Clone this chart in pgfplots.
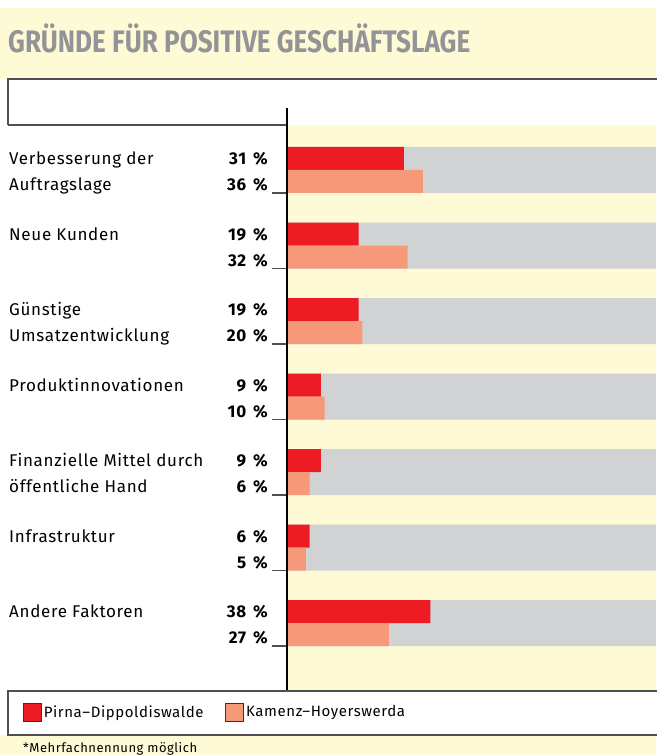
\documentclass[border=0pt]{standalone}
\usepackage{pgfplots}
\pgfplotsset{compat=1.18}
\usepackage{fontspec}
\setmainfont{Fira Sans}[LetterSpace=4]
\definecolor{bgy}{RGB}{255,250,214}
\definecolor{barg}{RGB}{209,210,212}
\definecolor{rd}{RGB}{237,28,36}
\definecolor{sal}{RGB}{246,153,122}
\definecolor{ttl}{RGB}{146,148,152}
\definecolor{frm}{RGB}{80,80,80}
\newcommand{\lbl}{\fontsize{17pt}{18pt}\selectfont}
\begin{document}
\begin{tikzpicture}
\useasboundingbox (0,0) rectangle (656pt,-755pt);
\fill[white] (0,0) rectangle (656pt,-755pt);
\fill[bgy] (0,-8pt) rectangle (656pt,-79pt);
\fill[bgy] (287pt,-125pt) rectangle (656pt,-691pt);
\fill[bgy] (0,-735pt) rectangle (656pt,-755pt);
% title
\node[anchor=base west, inner sep=0pt, text=ttl] at (8pt,-52pt)
  {\resizebox{462pt}{!}{\scalebox{0.84}[1]{\fontsize{30.5pt}{32pt}\selectfont\bfseries\addfontfeature{LetterSpace=0}GRÜNDE FÜR POSITIVE GESCHÄFTSLAGE}}};
% top box
\fill[white] (8pt,-79pt) rectangle (657pt,-125pt);
\draw[line width=2pt, frm] (658pt,-79pt) -- (8pt,-79pt) -- (8pt,-125pt);
\draw[line width=1.2pt, frm] (8pt,-125pt) -- (287pt,-125pt);
% legend box
\draw[line width=1.5pt, frm, fill=white] (8pt,-691pt) rectangle (660pt,-735pt);
% footnote
\node[anchor=base west, inner sep=0pt] at (23pt,-752pt) {\fontsize{13pt}{14pt}\selectfont *Mehrfachnennung möglich};
% category labels
\begin{scope}[every node/.style={anchor=base west, inner sep=0pt, font=\lbl}]
\node at (9pt,-164.5pt) {Verbesserung der};
\node at (9pt,-190.5pt) {Auftragslage};
\node at (9pt,-240pt) {Neue Kunden};
\node at (9pt,-315.5pt) {Günstige};
\node at (9pt,-341.5pt) {Umsatzentwicklung};
\node at (9pt,-391pt) {Produktinnovationen};
\node at (9pt,-466.5pt) {Finanzielle Mittel durch};
\node at (9pt,-492.5pt) {öffentliche Hand};
\node at (9pt,-542pt) {Infrastruktur};
\node at (9pt,-617.5pt) {Andere Faktoren};
\end{scope}
% percentage labels
\begin{scope}[every node/.style={anchor=base east, inner sep=0pt, font=\lbl\bfseries}]
\node at (268pt,-164.5pt) {31\hspace{7pt}\%};
\node at (268pt,-190.5pt) {36\hspace{7pt}\%};
\node at (268pt,-240pt) {19\hspace{7pt}\%};
\node at (268pt,-266pt) {32\hspace{7pt}\%};
\node at (268pt,-315.5pt) {19\hspace{7pt}\%};
\node at (268pt,-341.5pt) {20\hspace{7pt}\%};
\node at (268pt,-391pt) {9\hspace{7pt}\%};
\node at (268pt,-417pt) {10\hspace{7pt}\%};
\node at (268pt,-466.5pt) {9\hspace{7pt}\%};
\node at (268pt,-492.5pt) {6\hspace{7pt}\%};
\node at (268pt,-542pt) {6\hspace{7pt}\%};
\node at (268pt,-568pt) {5\hspace{7pt}\%};
\node at (268pt,-617.5pt) {38\hspace{7pt}\%};
\node at (268pt,-643.5pt) {27\hspace{7pt}\%};
\end{scope}
\begin{axis}[
  at={(287pt,-690pt)}, anchor=south west,
  scale only axis, width=369pt, height=565pt,
  xmin=0, xmax=97.85, ymin=-0.887, ymax=6.596,
  xbar, bar width=23pt,
  axis x line=none,
  axis y line*=left,
  y axis line style={-, draw=none},
  xtick=\empty,
  ytick={5.6954,4.6954,3.6954,2.6954,1.6954,0.6954,-0.3046},
  yticklabels={},
  tick align=outside, major tick length=15pt,
  tick style={line width=1.2pt, frm},
  legend columns=2,
  legend style={at={(axis description cs:-0.7154,-0.0389)}, anchor=west,
    draw=none, fill=none, inner sep=0pt, font=\fontsize{15pt}{16pt}\selectfont,
    /tikz/every even column/.append style={column sep=20pt},
    nodes={inner xsep=2pt}},
  legend image code/.code={\draw[#1, draw=black!80, line width=0.6pt] (0pt,-9pt) rectangle (18pt,9pt);},
]
\addplot[fill=barg, draw=none, bar width=46pt, bar shift=0pt, forget plot] coordinates {
(100,6) (100,5) (100,4) (100,3) (100,2) (100,1) (100,0)};
\addplot[fill=rd, draw=none, bar shift=11.5pt] coordinates {
(31,6) (19,5) (19,4) (9,3) (9,2) (6,1) (38,0)};
\addplot[fill=sal, draw=none, bar shift=-11.5pt] coordinates {
(36,6) (32,5) (20,4) (10,3) (6,2) (5,1) (27,0)};
\legend{Pirna–Dippoldiswalde, Kamenz–Hoyerswerda}
\end{axis}
\draw[line width=1.2pt, black] (287pt,-108pt) -- (287pt,-690pt);
\end{tikzpicture}
\end{document}
